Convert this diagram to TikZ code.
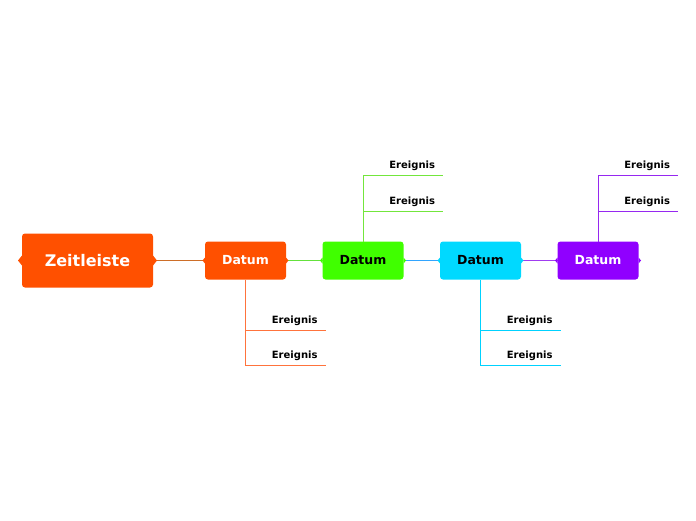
\documentclass[tikz,border=0pt]{standalone}
\usepackage{fontspec}
\setmainfont{DejaVu Sans}
\usetikzlibrary{positioning}
\definecolor{zeitorange}{RGB}{255,80,0}
\definecolor{datumgreen}{RGB}{64,255,0}
\definecolor{datumcyan}{RGB}{0,217,255}
\definecolor{datumpurple}{RGB}{144,0,255}
\definecolor{linkbrown}{RGB}{205,110,40}
\definecolor{linkgreen}{RGB}{100,225,60}
\definecolor{linkblue}{RGB}{50,165,255}
\definecolor{linkpurple}{RGB}{160,60,240}
\definecolor{astorange}{RGB}{255,115,60}
\definecolor{astgreen}{RGB}{115,230,60}
\definecolor{astcyan}{RGB}{0,210,255}
\definecolor{astpurple}{RGB}{150,40,240}

\begin{document}
\begin{tikzpicture}[
      topic/.style={rounded corners=3pt, minimum width=131pt, minimum height=54pt,
                    inner sep=0pt, outer sep=0pt, fill=zeitorange, text=white,
                    font=\bfseries\fontsize{16}{19}\selectfont},
      datum/.style={rounded corners=3pt, minimum width=81pt, minimum height=38pt,
                    inner sep=0pt, outer sep=0pt, font=\bfseries\fontsize{12.5}{15}\selectfont},
      ereignis/.style={text width=64pt, align=right, inner xsep=8pt, inner ysep=7pt,
                       outer sep=0pt, text depth=0pt, font=\bfseries\fontsize{10}{12}\selectfont},
      link/.style={line width=0.9pt},
      node distance=36.5pt
    ]
      \useasboundingbox (0,0) rectangle (696pt,-520pt);

      % Hauptthema und Daten
      \node[topic] (zeit) at (87.5pt,-260.5pt) {Zeitleiste};
      \node[datum, fill=zeitorange, text=white, right=52pt of zeit] (d1) {Datum};
      \node[datum, fill=datumgreen, right=of d1] (d2) {Datum};
      \node[datum, fill=datumcyan, right=of d2] (d3) {Datum};
      \node[datum, fill=datumpurple, text=white, right=of d3] (d4) {Datum};

      % Ereignisse
      \node[ereignis, below=51pt of d1.south, anchor=south west] (e1a) {Ereignis};
      \node[ereignis, below=35pt of e1a.south west, anchor=south west] (e1b) {Ereignis};
      \node[ereignis, above=30pt of d2.north, anchor=south west] (e2a) {Ereignis};
      \node[ereignis, above=36pt of e2a.south west, anchor=south west] (e2b) {Ereignis};
      \node[ereignis, below=51pt of d3.south, anchor=south west] (e3a) {Ereignis};
      \node[ereignis, below=35pt of e3a.south west, anchor=south west] (e3b) {Ereignis};
      \node[ereignis, above=30pt of d4.north, anchor=south west] (e4a) {Ereignis};
      \node[ereignis, above=36pt of e4a.south west, anchor=south west] (e4b) {Ereignis};

      \draw[link, linkbrown] (zeit) -- (d1);
      \draw[link, linkgreen] (d1) -- (d2);
      \draw[link, linkblue] (d2) -- (d3);
      \draw[link, linkpurple] (d3) -- (d4);

      \draw[link, astorange] (d1.south) |- (e1b.south east);
      \draw[link, astorange] (e1a.south west) -- (e1a.south east);
      \draw[link, astgreen] (d2.north) |- (e2b.south east);
      \draw[link, astgreen] (e2a.south west) -- (e2a.south east);
      \draw[link, astcyan] (d3.south) |- (e3b.south east);
      \draw[link, astcyan] (e3a.south west) -- (e3a.south east);
      \draw[link, astpurple] (d4.north) |- (e4b.south east);
      \draw[link, astpurple] (e4a.south west) -- (e4a.south east);

      % kleine Spitzen an den Seiten
      \fill[zeitorange] ([yshift=5pt]zeit.west) -- ([xshift=-4pt]zeit.west) -- ([yshift=-5pt]zeit.west) -- cycle;
      \fill[zeitorange] ([yshift=5pt]zeit.east) -- ([xshift=4pt]zeit.east) -- ([yshift=-5pt]zeit.east) -- cycle;
      \foreach \n/\c in {d1/zeitorange, d2/datumgreen, d3/datumcyan, d4/datumpurple} {
        \fill[\c] ([yshift=3pt]\n.west) -- ([xshift=-2.5pt]\n.west) -- ([yshift=-3pt]\n.west) -- cycle;
        \fill[\c] ([yshift=3pt]\n.east) -- ([xshift=2.5pt]\n.east) -- ([yshift=-3pt]\n.east) -- cycle;
      }
    \end{tikzpicture}
\end{document}
